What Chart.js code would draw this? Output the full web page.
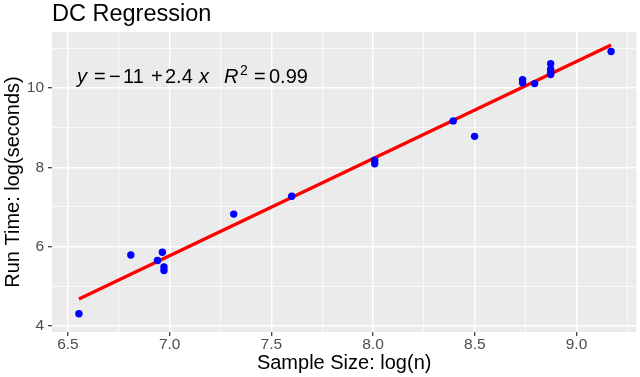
<!DOCTYPE html>
<html>
<head>
<meta charset="utf-8">
<script src="https://cdn.jsdelivr.net/npm/chart.js@4/dist/chart.umd.min.js"></script>
<style>
  html, body { margin: 0; padding: 0; background: #ffffff; }
  #wrap { width: 640px; height: 377px; }
</style>
</head>
<body>
<div id="wrap"><canvas id="c" width="640" height="377"></canvas></div>
<script>
// ---- data ----
const sampleSizeLog = [6.554, 6.809, 6.940, 6.964, 6.972, 6.972, 7.315, 7.600, 8.008, 8.008,
                       8.394, 8.499, 8.735, 8.735, 8.794, 8.873, 8.873, 8.873, 8.873, 9.170];
const runTimeLog    = [4.31, 5.79, 5.65, 5.86, 5.49, 5.40, 6.82, 7.27, 8.18, 8.09,
                       9.17, 8.78, 10.21, 10.13, 10.11, 10.61, 10.47, 10.39, 10.34, 10.92];
const fitX = [6.554, 9.170];
const fitY = [4.68, 11.08];
const xTickValues = [6.5, 7.0, 7.5, 8.0, 8.5, 9.0];
const xTickLabels = ['6.5', '7.0', '7.5', '8.0', '8.5', '9.0'];
const xMinorValues = [6.75, 7.25, 7.75, 8.25, 8.75, 9.25];
const yTickValues = [4, 6, 8, 10];
const yTickLabels = ['4', '6', '8', '10'];
const yMinorValues = [5, 7, 9, 11];
const titleText = 'DC Regression';
const xTitle = 'Sample Size: log(n)';
const yTitle = 'Run Time: log(seconds)';

const FONT = "'Liberation Sans', Arial, Helvetica, sans-serif";

const points = sampleSizeLog.map((x, i) => ({ x: x, y: runTimeLog[i] }));
const fitLine = fitX.map((x, i) => ({ x: x, y: fitY[i] }));

function isIn(arr, v) { return arr.some(a => Math.abs(a - v) < 1e-9); }

const panelBg = {
  id: 'panelBg',
  beforeDraw(chart) {
    const { ctx, chartArea: a } = chart;
    ctx.save();
    ctx.fillStyle = '#EBEBEB';
    ctx.fillRect(a.left, a.top, a.right - a.left, a.bottom - a.top);
    ctx.restore();
  }
};

const equation = {
  id: 'equation',
  afterDatasetsDraw(chart) {
    const { ctx, chartArea: a } = chart;
    const L = a.left;
    const base = 83;
    const reg = '20px ' + FONT;
    const ita = 'italic 20px ' + FONT;
    const sup = '14px ' + FONT;
    const tokens = [
      ['y', ita, 25, 0],
      ['=', reg, 42, 0],
      ['\u2212', reg, 57, 0],
      ['11', reg, 71, 0],
      ['+', reg, 99, 0],
      ['2.4', reg, 113, 0],
      ['x', ita, 147, 0],
      ['R', ita, 172, 0],
      ['2', sup, 188, -8],
      ['=', reg, 202, 0],
      ['0.99', reg, 217, 0]
    ];
    ctx.save();
    ctx.fillStyle = '#000000';
    ctx.textBaseline = 'alphabetic';
    ctx.textAlign = 'left';
    tokens.forEach(t => {
      ctx.font = t[1];
      ctx.fillText(t[0], L + t[2], base + t[3]);
    });
    ctx.restore();
  }
};

new Chart(document.getElementById('c'), {
  type: 'scatter',
  data: {
    datasets: [
      {
        label: 'runs',
        data: points,
        backgroundColor: '#0000FF',
        borderWidth: 0,
        pointRadius: 3.7,
        pointHoverRadius: 3.7,
        order: 0
      },
      {
        type: 'line',
        label: 'fit',
        data: fitLine,
        borderColor: '#FF0000',
        borderWidth: 3.3,
        pointRadius: 0,
        fill: false,
        showLine: true,
        order: 1
      }
    ]
  },
  options: {
    responsive: false,
    animation: false,
    devicePixelRatio: 1,
    layout: { padding: { left: 0, right: 2, top: 0, bottom: 0 } },
    plugins: {
      legend: { display: false },
      tooltip: { enabled: false },
      title: {
        display: true,
        text: titleText,
        align: 'start',
        fullSize: false,
        color: '#000000',
        font: { family: FONT, size: 23.5, weight: 'normal' },
        padding: { top: 0, bottom: 3.8 }
      }
    },
    scales: {
      x: {
        type: 'linear',
        min: 6.4216,
        max: 9.294,
        afterBuildTicks(scale) {
          const vals = xTickValues.concat(xMinorValues).sort((a, b) => a - b);
          scale.ticks = vals.map(v => ({ value: v }));
        },
        afterFit(scale) { scale.height = 45; },
        ticks: {
          autoSkip: false,
          maxRotation: 0,
          padding: -1,
          color: '#4D4D4D',
          font: { family: FONT, size: 15.5 },
          callback(value) {
            const i = xTickValues.findIndex(v => Math.abs(v - value) < 1e-9);
            return i >= 0 ? xTickLabels[i] : '';
          }
        },
        grid: {
          color: '#FFFFFF',
          lineWidth: ctx => (ctx.tick && isIn(xTickValues, ctx.tick.value)) ? 1.4 : 0.7,
          drawTicks: true,
          tickLength: 4,
          tickWidth: 1.2,
          tickColor: ctx => (ctx.tick && isIn(xTickValues, ctx.tick.value)) ? '#333333' : 'rgba(0,0,0,0)'
        },
        border: { display: false },
        title: {
          display: true,
          text: xTitle,
          color: '#000000',
          font: { family: FONT, size: 20 },
          padding: { top: 0, bottom: 2 }
        }
      },
      y: {
        type: 'linear',
        min: 3.849,
        max: 11.41,
        afterBuildTicks(scale) {
          const vals = yTickValues.concat(yMinorValues).sort((a, b) => a - b);
          scale.ticks = vals.map(v => ({ value: v }));
        },
        afterFit(scale) { scale.width = 52; },
        ticks: {
          autoSkip: false,
          padding: 4,
          color: '#4D4D4D',
          font: { family: FONT, size: 15.5 },
          callback(value) {
            const i = yTickValues.findIndex(v => Math.abs(v - value) < 1e-9);
            return i >= 0 ? yTickLabels[i] : '';
          }
        },
        grid: {
          color: '#FFFFFF',
          lineWidth: ctx => (ctx.tick && isIn(yTickValues, ctx.tick.value)) ? 1.4 : 0.7,
          drawTicks: true,
          tickLength: 4,
          tickWidth: 1.2,
          tickColor: ctx => (ctx.tick && isIn(yTickValues, ctx.tick.value)) ? '#333333' : 'rgba(0,0,0,0)'
        },
        border: { display: false },
        title: {
          display: true,
          text: yTitle,
          color: '#000000',
          font: { family: FONT, size: 20 },
          padding: { top: 1, bottom: 0 }
        }
      }
    }
  },
  plugins: [panelBg, equation]
});
</script>
</body>
</html>
